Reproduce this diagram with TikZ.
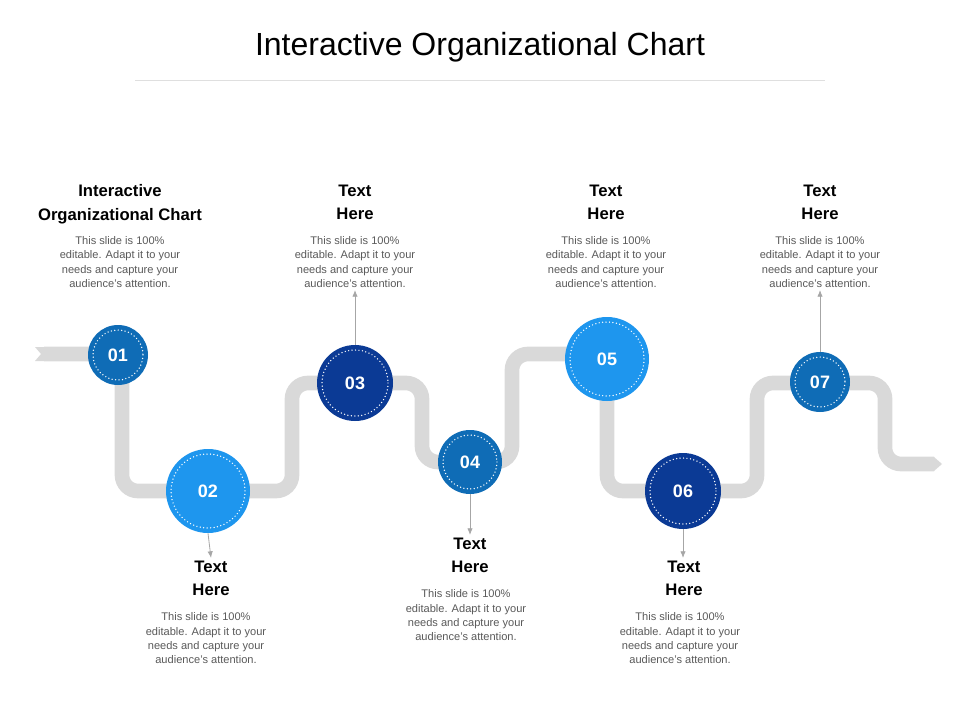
\documentclass[tikz,border=0pt]{standalone}
\usepackage{fontspec}
\setmainfont{Liberation Sans}
\definecolor{pathgray}{HTML}{D9D9D9}
\definecolor{cmid}{HTML}{0F6CB6}
\definecolor{cbright}{HTML}{1E96EE}
\definecolor{cdark}{HTML}{0B3A95}
\definecolor{bodygray}{HTML}{595959}
\begin{document}
\begin{tikzpicture}[x=0.75pt,y=-0.75pt,
  num/.style={circle,draw=none,fill=#1,text=white,font=\bfseries\fontsize{13.5}{15}\selectfont,inner sep=0pt},
  head/.style={font=\bfseries\fontsize{12.5}{17.5}\selectfont,align=center,anchor=north,text=black},
  body/.style={font=\fontsize{8.3}{10.7}\selectfont,align=center,anchor=north,text=bodygray},
  conn/.style={draw=gray!70,line width=0.6pt,-{Latex[length=5pt,width=4pt]}}]
\useasboundingbox (0,0) rectangle (960,720);
\usetikzlibrary{arrows.meta}
\node[font=\fontsize{24}{28}\selectfont] (title) at (480,47) {Interactive Organizational Chart};
\draw[gray!25,line width=0.6pt] (135,80) -- (825,80);
% path
\draw[pathgray,line width=11pt,rounded corners=12pt]
 (44,354) -- (122,354) -- (122,491) -- (292,491) -- (292,383) -- (422,383) -- (422,462)
 -- (512,462) -- (512,354) -- (607,354) -- (607,491) -- (757,491) -- (757,383)
 -- (885,383) -- (885,464) -- (934,464);
\fill[pathgray] (934,457) -- (942,464) -- (934,471) -- cycle;
\fill[white] (35,347) -- (43,354) -- (35,361) -- cycle;
\fill[pathgray] (35,347) -- (44,347) -- (44,361) -- (35,361) -- (41,354) -- cycle;
% circles
\foreach \n/\x/\y/\r/\c in {01/118/355/30/cmid,02/208/491/42/cbright,03/355/383/38/cdark,04/470/462/32/cmid,05/607/359/42/cbright,06/683/491/38/cdark,07/820/382/30/cmid}{
  \node[num=\c,minimum size=2*\r*0.75pt] (c\n) at (\x,\y) {\n};
  \draw[white,line width=1.1pt,dash pattern=on 0pt off 2.6pt,line cap=round] (\x,\y) circle[radius=\r-5];
}
% texts
\node[head] (h1) at (120,180) {Interactive\\Organizational Chart};
\node[body] (b1) at (120,232) {This slide is 100\%\\editable. Adapt it to your\\needs and capture your\\audience's attention.};
\node[head] (h3) at (355,180) {Text\\Here};
\node[body] (b3) at (355,232) {This slide is 100\%\\editable. Adapt it to your\\needs and capture your\\audience's attention.};
\node[head] (h5) at (606,180) {Text\\Here};
\node[body] (b5) at (606,232) {This slide is 100\%\\editable. Adapt it to your\\needs and capture your\\audience's attention.};
\node[head] (h7) at (820,180) {Text\\Here};
\node[body] (b7) at (820,232) {This slide is 100\%\\editable. Adapt it to your\\needs and capture your\\audience's attention.};
\node[head] (h2) at (211,556) {Text\\Here};
\node[body] (b2) at (206,608) {This slide is 100\%\\editable. Adapt it to your\\needs and capture your\\audience's attention.};
\node[head] (h4) at (470,533) {Text\\Here};
\node[body] (b4) at (466,585) {This slide is 100\%\\editable. Adapt it to your\\needs and capture your\\audience's attention.};
\node[head] (h6) at (684,556) {Text\\Here};
\node[body] (b6) at (680,608) {This slide is 100\%\\editable. Adapt it to your\\needs and capture your\\audience's attention.};
% connectors
\coordinate (e2) at (211,558); \coordinate (e3) at (355,290); \coordinate (e4) at (470,535);
\coordinate (e6) at (683,558); \coordinate (e7) at (820,290);
\draw[conn] (c02.south) -- (e2);
\draw[conn] (c03.north) -- (e3);
\draw[conn] (c04.south) -- (e4);
\draw[conn] (c06.south) -- (e6);
\draw[conn] (c07.north) -- (e7);
\end{tikzpicture}
\end{document}
